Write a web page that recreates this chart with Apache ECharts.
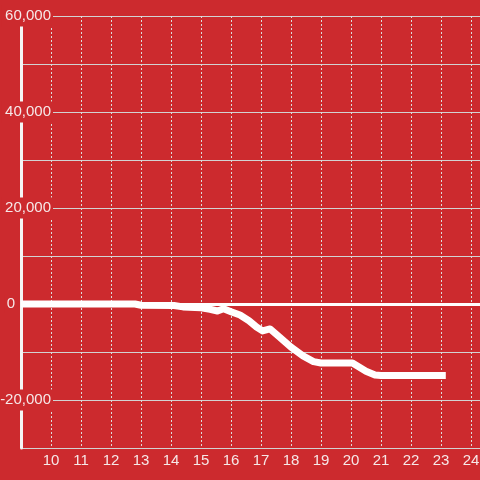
<!DOCTYPE html>
<html>
<head>
<meta charset="utf-8">
<script src="https://cdn.jsdelivr.net/npm/echarts@6/dist/echarts.min.js"></script>
<style>html,body{margin:0;padding:0;background:#cc2a2e;}#c{width:480px;height:480px;}</style>
</head>
<body>
<div id="c"></div>
<script>
var times = [9, 12.8, 13.0, 14.1, 14.4, 15.0, 15.3, 15.55, 15.75, 16.0, 16.3, 16.6, 16.85, 17.05, 17.3, 17.6, 18.0, 18.4, 18.75, 19.0, 20.05, 20.5, 20.8, 21.0, 23.16];
var values = [0, 0, -250, -300, -600, -800, -1100, -1450, -1000, -1600, -2300, -3500, -4800, -5600, -5200, -6800, -9000, -10800, -12000, -12300, -12300, -14000, -14800, -14900, -14900];
var xTicks = [10, 11, 12, 13, 14, 15, 16, 17, 18, 19, 20, 21, 22, 23, 24];
var yTicks = [60000, 40000, 20000, 0, -20000];

var BG = '#cc2a2e';
var TXT = '#f6e8e8';
var FONT = 'Liberation Sans, Arial, sans-serif';
var points = times.map(function (t, i) { return [t, values[i]]; });

var chart = echarts.init(document.getElementById('c'));
chart.setOption({
  backgroundColor: BG,
  animation: false,
  grid: { left: 21, right: 0, top: 16, bottom: 32, containLabel: false, outerBoundsMode: 'none' },
  xAxis: {
    type: 'value', min: 9, max: 24.3, interval: 1,
    axisLine: { show: false }, axisTick: { show: false },
    axisLabel: {
      color: TXT, fontSize: 15, fontFamily: FONT, margin: 5,
      formatter: function (v) { return xTicks.indexOf(v) >= 0 ? String(v) : ''; }
    },
    splitLine: { show: true, lineStyle: { color: '#dcdcdc', width: 1, type: [2, 2] } }
  },
  yAxis: {
    type: 'value', min: -30000, max: 60000, interval: 10000,
    axisLine: { show: true, lineStyle: { color: '#f5f5f5', width: 3 } },
    axisTick: { show: false },
    axisLabel: {
      inside: true, align: 'right', margin: 32,
      color: TXT, fontSize: 15, fontFamily: FONT,
      formatter: function (v) {
        if (yTicks.indexOf(v) < 0) return '';
        if (v === 0) return '{z|0}{sp|}';
        return '{a|' + v.toLocaleString('en-US') + '}';
      },
      rich: {
        a: { backgroundColor: BG, padding: [3, 2, 3, 4], color: TXT, fontSize: 15, fontFamily: FONT },
        z: { backgroundColor: BG, padding: [1, 2, 1, 2], color: TXT, fontSize: 15, fontFamily: FONT },
        sp: { width: 36 }
      }
    },
    splitLine: { show: true, lineStyle: { color: '#d2d2d2', width: 1 } }
  },
  series: [{
    type: 'line',
    data: points,
    showSymbol: false,
    symbol: 'none',
    lineStyle: { color: '#ffffff', width: 7, join: 'round' },
    markLine: {
      silent: true, symbol: 'none', label: { show: false },
      lineStyle: { color: '#ffffff', width: 3, type: 'solid' },
      data: [{ yAxis: 0 }]
    }
  }]
});
</script>
</body>
</html>
